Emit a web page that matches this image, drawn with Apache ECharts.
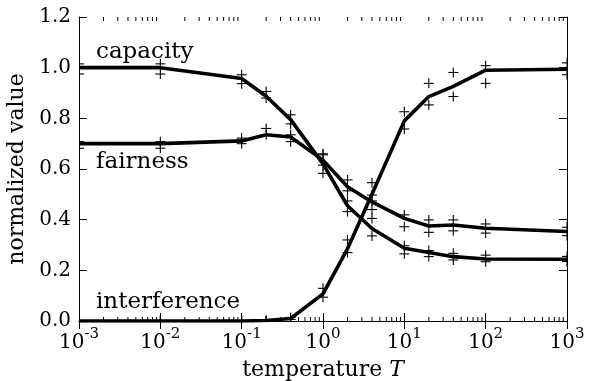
<!DOCTYPE html>
<html><head><meta charset="utf-8">
<script src="https://cdn.jsdelivr.net/npm/echarts@6/dist/echarts.min.js"></script>
<style>html,body{margin:0;padding:0;background:#fff}#c{width:590px;height:381px}</style>
</head><body><div id="c"></div>
<script>
// temperatures (x, log scale)
const temperatures = [0.001, 0.01, 0.1, 0.2, 0.4, 1, 2, 4, 10, 20, 40, 100, 1000];
// mean curves
const capacity     = [1.0, 1.0, 0.957, 0.887, 0.795, 0.62, 0.455, 0.365, 0.287, 0.27, 0.254, 0.245, 0.244];
const fairness     = [0.70, 0.70, 0.711, 0.735, 0.726, 0.635, 0.53, 0.47, 0.405, 0.375, 0.379, 0.366, 0.353];
const interference = [0.0, 0.0, 0.0, 0.002, 0.01, 0.107, 0.285, 0.50, 0.79, 0.886, 0.926, 0.99, 0.994];
// individual runs (+ markers)
const capacityRunA     = [1.015, 1.015, 0.972, 0.906, 0.814, 0.656, 0.474, 0.405, 0.297, 0.278, 0.267, 0.26, 0.255];
const capacityRunB     = [0.975, 0.975, 0.937, 0.88, 0.778, 0.583, 0.432, 0.336, 0.265, 0.254, 0.241, 0.234, 0.235];
const fairnessRunA     = [0.708, 0.708, 0.722, 0.76, 0.735, 0.66, 0.557, 0.497, 0.419, 0.399, 0.399, 0.383, 0.37];
const fairnessRunB     = [0.682, 0.682, 0.70, 0.735, 0.708, 0.615, 0.514, 0.44, 0.372, 0.35, 0.356, 0.347, 0.337];
const interferenceRunA = [0.0, 0.0, 0.0, 0.003, 0.014, 0.129, 0.32, 0.546, 0.826, 0.938, 0.981, 1.008, 1.019];
const interferenceRunB = [0.0, 0.0, 0.0, 0.0, 0.006, 0.094, 0.27, 0.474, 0.758, 0.853, 0.886, 0.938, 0.972];
// axis ticks
const yTicks = [0, 0.2, 0.4, 0.6, 0.8, 1.0, 1.2];
const decades = [-3, -2, -1, 0, 1, 2];
const seriesNames = ['capacity', 'fairness', 'interference'];

const FONT = 'DejaVu Serif';
const pair = (xs, ys) => xs.map((x, i) => [x, ys[i]]);
const minorTicks = [];
decades.forEach(d => { for (let k = 2; k <= 9; k++) minorTicks.push([k * Math.pow(10, d), 0]); });

const lineSeries = (name, ys) => ({
  name, type: 'line', data: pair(temperatures, ys), symbol: 'none',
  lineStyle: { color: '#000', width: 3.6, join: 'round' }, z: 2, animation: false
});
const runSeries = (ys) => ({
  type: 'custom', data: pair(temperatures, ys), clip: true, z: 3, animation: false, silent: true,
  renderItem: (params, api) => {
    const p = api.coord([api.value(0), api.value(1)]);
    const h = 5, st = { stroke: '#000', lineWidth: 1.1 };
    return { type: 'group', children: [
      { type: 'line', shape: { x1: p[0] - h, y1: p[1], x2: p[0] + h, y2: p[1] }, style: st },
      { type: 'line', shape: { x1: p[0], y1: p[1] - h, x2: p[0], y2: p[1] + h }, style: st }
    ] };
  }
});

const xAxisBase = {
  type: 'log', logBase: 10, min: 0.001, max: 1000, splitNumber: 6,
  axisLine: { show: true, lineStyle: { color: '#000', width: 1 } },
  axisTick: { show: true, inside: true, length: 8, lineStyle: { color: '#000', width: 1 } },
  splitLine: { show: false }, minorTick: { show: false }
};
const yAxisBase = {
  type: 'value', min: 0, max: 1.2, interval: 0.2,
  axisLine: { show: true, lineStyle: { color: '#000', width: 1 } },
  axisTick: { show: true, inside: true, length: 8, lineStyle: { color: '#000', width: 1 } },
  splitLine: { show: false }
};

const chart = echarts.init(document.getElementById('c'), null, { renderer: 'canvas' });
chart.setOption({
  animation: false,
  backgroundColor: '#fff',
  grid: { left: 79, right: 23, top: 17, bottom: 60, containLabel: false, outerBoundsMode: 'none' },
  xAxis: [
    Object.assign({}, xAxisBase, {
      position: 'bottom',
      name: 'temperature {i|T}', nameLocation: 'middle', nameGap: 38,
      nameTextStyle: { fontFamily: FONT, fontSize: 22, color: '#000',
        rich: { i: { fontFamily: FONT, fontSize: 22, fontStyle: 'italic', color: '#000' } } },
      axisLabel: {
        show: true, margin: 6, color: '#000', hideOverlap: false,
        formatter: v => '{b|10}{s|' + Math.round(Math.log10(v)) + '}',
        rich: {
          b: { fontFamily: FONT, fontSize: 20, color: '#000', lineHeight: 26, verticalAlign: 'bottom' },
          s: { fontFamily: FONT, fontSize: 15, color: '#000', verticalAlign: 'top' }
        }
      }
    }),
    Object.assign({}, xAxisBase, { position: 'top', axisLabel: { show: false } })
  ],
  yAxis: [
    Object.assign({}, yAxisBase, {
      position: 'left',
      name: 'normalized value', nameLocation: 'middle', nameGap: 42,
      nameTextStyle: { fontFamily: FONT, fontSize: 22, color: '#000' },
      axisLabel: { show: true, margin: 8, color: '#000', fontFamily: FONT, fontSize: 20,
        formatter: v => v.toFixed(1) }
    }),
    Object.assign({}, yAxisBase, { position: 'right', axisLabel: { show: false } })
  ],
  series: [
    lineSeries(seriesNames[0], capacity),
    lineSeries(seriesNames[1], fairness),
    lineSeries(seriesNames[2], interference),
    runSeries(capacityRunA), runSeries(capacityRunB),
    runSeries(fairnessRunA), runSeries(fairnessRunB),
    runSeries(interferenceRunA), runSeries(interferenceRunB),
    {
      type: 'custom', data: minorTicks, silent: true, z: 4, animation: false,
      renderItem: (params, api) => {
        const b = api.coord([api.value(0), 0]);
        const t = api.coord([api.value(0), 1.2]);
        const st = { stroke: '#000', lineWidth: 1 };
        return { type: 'group', children: [
          { type: 'line', shape: { x1: b[0], y1: b[1], x2: b[0], y2: b[1] - 4 }, style: st },
          { type: 'line', shape: { x1: t[0], y1: t[1], x2: t[0], y2: t[1] + 4 }, style: st }
        ] };
      }
    }
  ],
  graphic: [
    { type: 'text', left: 96, top: 41, style: { text: seriesNames[0], font: '23px "DejaVu Serif"', fill: '#000' } },
    { type: 'text', left: 96, top: 151, style: { text: seriesNames[1], font: '23px "DejaVu Serif"', fill: '#000' } },
    { type: 'text', left: 96, top: 291, style: { text: seriesNames[2], font: '23px "DejaVu Serif"', fill: '#000' } }
  ]
});
</script>
</body></html>
